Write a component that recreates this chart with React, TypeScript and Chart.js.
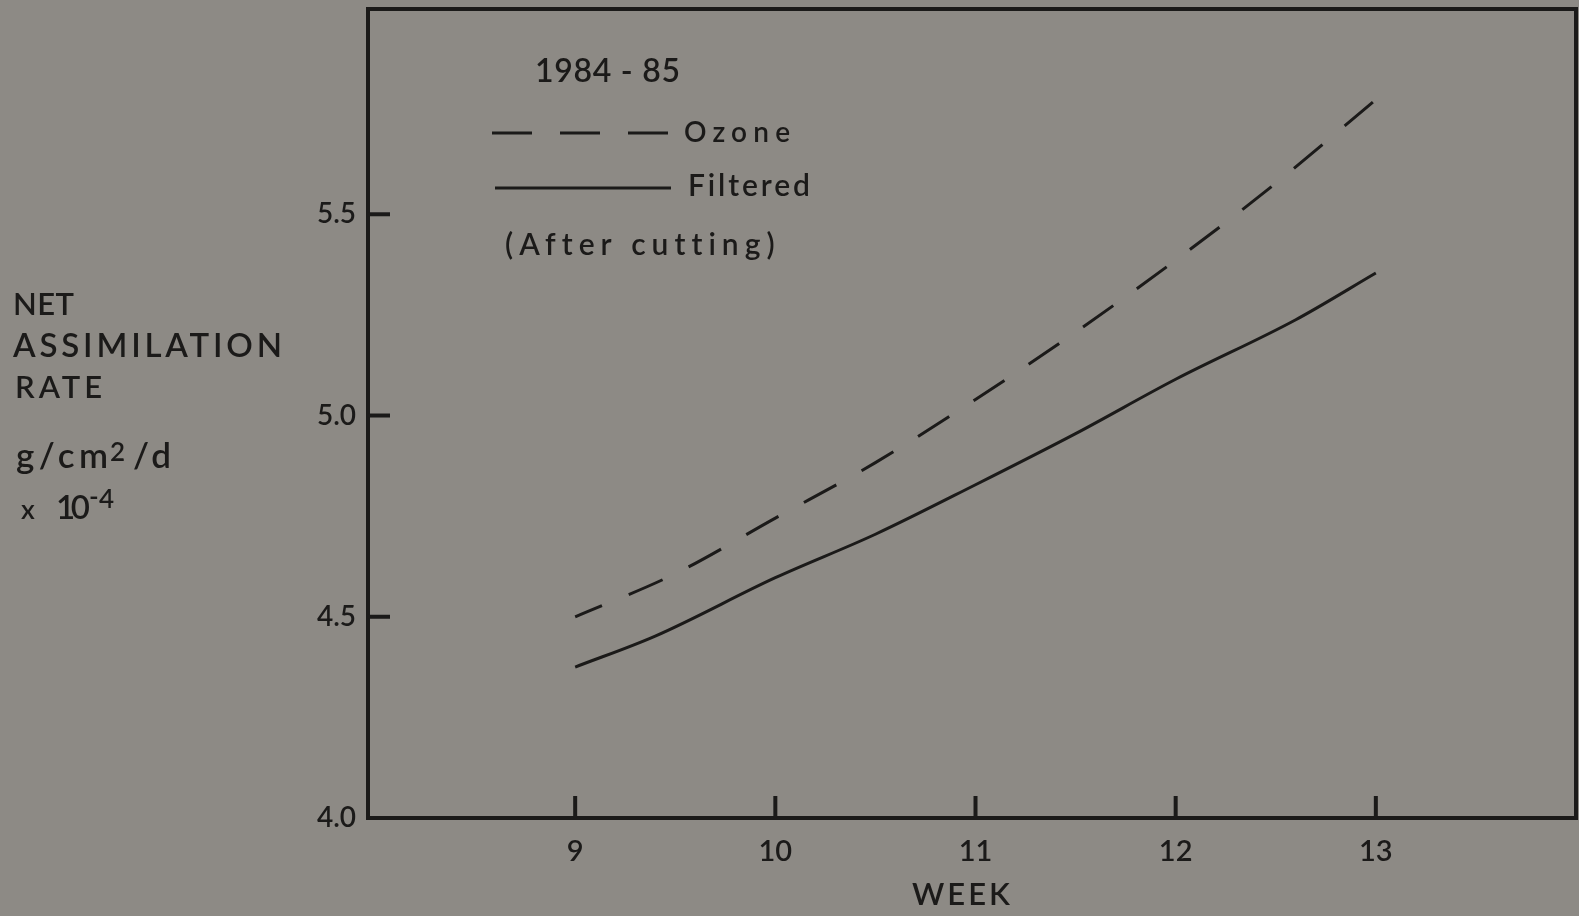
import { useEffect, useRef } from "react";
import { Chart, registerables } from "chart.js";

Chart.register(...registerables);

// Net assimilation rate (g/cm²/d × 10⁻⁴) by week, 1984-85, after cutting
const ozoneWeeks = [9, 9.5, 10, 10.5, 11, 11.5, 12, 12.5, 13];
const ozoneRate = [4.5, 4.607, 4.745, 4.883, 5.04, 5.207, 5.386, 5.577, 5.785];

const filteredWeeks = [9, 9.4, 10, 10.5, 11, 11.5, 12, 12.6, 13];
const filteredRate = [4.375, 4.452, 4.597, 4.705, 4.828, 4.955, 5.09, 5.238, 5.354];

const weekTicks = [9, 10, 11, 12, 13];
const rateTicks = [4.0, 4.5, 5.0, 5.5];

const seasonLabel = "1984 - 85";
const seriesNames = ["Ozone", "Filtered"];
const noteLabel = "(After cutting)";
const xTitle = "WEEK";
const yTitleLines = ["NET", "ASSIMILATION", "RATE"];

const INK = "#1b1a19";
const PAPER = "#8d8a85";
const FONT = "Lato, 'DejaVu Sans', sans-serif";
const WEIGHT = "600";
const W = 1579;
const H = 916;

// Draw text starting at x on baseline y, spread to a given overall width.
function spreadText(
  ctx: CanvasRenderingContext2D,
  text: string,
  x: number,
  y: number,
  size: number,
  width: number
) {
  ctx.font = `${WEIGHT} ${size}px ${FONT}`;
  (ctx as any).letterSpacing = "0px";
  const n = Array.from(text).length;
  const natural = ctx.measureText(text).width;
  const gap = n > 1 ? (width - natural) / (n - 1) : 0;
  (ctx as any).letterSpacing = `${gap}px`;
  ctx.textAlign = "left";
  ctx.textBaseline = "alphabetic";
  ctx.fillStyle = INK;
  ctx.fillText(text, x, y);
  (ctx as any).letterSpacing = "0px";
}

function segment(ctx: CanvasRenderingContext2D, x1: number, y1: number, x2: number, y2: number) {
  ctx.beginPath();
  ctx.moveTo(x1, y1);
  ctx.lineTo(x2, y2);
  ctx.stroke();
}

// Plot frame and inward tick marks
const framePlugin = {
  id: "frame",
  beforeDatasetsDraw(chart: any) {
    const { ctx, chartArea } = chart;
    const { left, right, top, bottom } = chartArea;
    const xs = chart.scales.x;
    const ys = chart.scales.y;
    ctx.save();
    ctx.strokeStyle = INK;
    ctx.lineWidth = 4;
    ctx.lineCap = "butt";
    ctx.strokeRect(left, top, right - left, bottom - top);
    weekTicks.forEach((w) => {
      const px = xs.getPixelForValue(w);
      segment(ctx, px, bottom, px, bottom - 22);
    });
    rateTicks.forEach((r) => {
      const py = ys.getPixelForValue(r);
      segment(ctx, left, py, left + 22, py);
    });
    ctx.restore();
  },
};

// Axis captions and the in-plot key
const annotationPlugin = {
  id: "annotations",
  afterDraw(chart: any) {
    const { ctx } = chart;
    ctx.save();

    // vertical-axis caption
    spreadText(ctx, yTitleLines[0], 13, 315, 31, 61);
    spreadText(ctx, yTitleLines[1], 13, 357, 33, 269);
    spreadText(ctx, yTitleLines[2], 15, 398, 31, 87);
    spreadText(ctx, "g/cm", 16, 468, 35, 92);
    spreadText(ctx, "2", 110, 461, 26, 17);
    spreadText(ctx, "/d", 133, 468, 35, 38);
    spreadText(ctx, "x", 21, 519, 27, 15);
    spreadText(ctx, "10", 56, 519, 33, 34);
    spreadText(ctx, "-", 89, 506, 26, 8);
    spreadText(ctx, "4", 99, 508, 26, 16);

    // horizontal-axis caption
    spreadText(ctx, xTitle, 912, 905, 31, 98);

    // key
    spreadText(ctx, seasonLabel, 535, 82, 32, 145);
    ctx.strokeStyle = INK;
    ctx.lineWidth = 3;
    ctx.setLineDash([40, 28]);
    segment(ctx, 492, 133, 673, 133);
    ctx.setLineDash([]);
    segment(ctx, 495, 188, 671, 188);
    spreadText(ctx, seriesNames[0], 684, 142, 28, 106);
    spreadText(ctx, seriesNames[1], 688, 196, 30, 122);
    spreadText(ctx, noteLabel, 505, 255, 30, 268);

    ctx.restore();
  },
};

export default function App() {
  const canvasRef = useRef<HTMLCanvasElement | null>(null);

  useEffect(() => {
    const canvas = canvasRef.current;
    if (!canvas) return;

    const toPoints = (xs: number[], ys: number[]) => xs.map((x, i) => ({ x, y: ys[i] }));

    const chart = new Chart(canvas, {
      type: "line",
      data: {
        datasets: [
          {
            label: seriesNames[0],
            data: toPoints(ozoneWeeks, ozoneRate),
            borderColor: INK,
            borderWidth: 3,
            borderDash: [37, 29],
            borderDashOffset: 8,
            pointRadius: 0,
            fill: false,
            cubicInterpolationMode: "monotone",
          },
          {
            label: seriesNames[1],
            data: toPoints(filteredWeeks, filteredRate),
            borderColor: INK,
            borderWidth: 3,
            pointRadius: 0,
            fill: false,
            cubicInterpolationMode: "monotone",
          },
        ],
      },
      options: {
        animation: false,
        responsive: false,
        devicePixelRatio: 1,
        layout: { padding: { top: 9, right: 3, left: 0, bottom: 0 } },
        plugins: {
          legend: { display: false },
          tooltip: { enabled: false },
          title: { display: false },
        },
        scales: {
          x: {
            type: "linear",
            min: 7.965,
            max: 14,
            border: { display: false },
            grid: { display: false, drawTicks: false },
            afterBuildTicks: (scale: any) => {
              scale.ticks = weekTicks.map((v) => ({ value: v }));
            },
            afterFit: (scale: any) => {
              scale.height = 98;
              scale.paddingLeft = 0;
              scale.paddingRight = 0;
            },
            ticks: {
              autoSkip: false,
              maxRotation: 0,
              padding: 16,
              color: INK,
              font: { family: FONT, size: 29, weight: WEIGHT },
              callback: (v: any) => String(v),
            },
          },
          y: {
            type: "linear",
            min: 4.0,
            max: 6.01,
            border: { display: false },
            grid: { display: false, drawTicks: false },
            afterBuildTicks: (scale: any) => {
              scale.ticks = rateTicks.map((v) => ({ value: v }));
            },
            afterFit: (scale: any) => {
              scale.width = 368;
              scale.paddingTop = 0;
              scale.paddingBottom = 0;
            },
            ticks: {
              autoSkip: false,
              padding: 12,
              color: INK,
              font: { family: FONT, size: 28, weight: WEIGHT },
              callback: (v: any) => Number(v).toFixed(1),
            },
          },
        },
      },
      plugins: [framePlugin, annotationPlugin],
    });

    return () => chart.destroy();
  }, []);

  return (
    <div
      style={{
        position: "absolute",
        left: 0,
        top: 0,
        width: W,
        height: H,
        background: PAPER,
        overflow: "hidden",
      }}
    >
      <canvas ref={canvasRef} width={W} height={H} style={{ display: "block" }} />
    </div>
  );
}
